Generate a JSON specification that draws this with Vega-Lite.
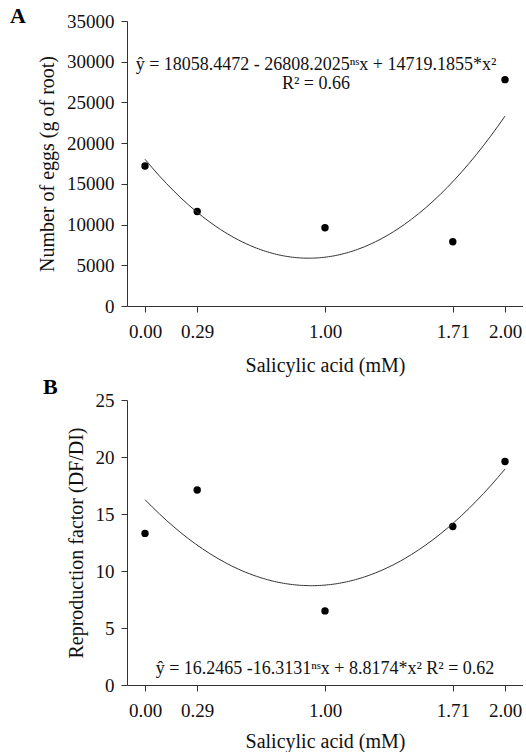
{
  "$schema": "https://vega.github.io/schema/vega-lite/v6.json",
  "background": "white",
  "autosize": {"type": "pad"},
  "padding": {"left": 10, "top": 5, "right": 0, "bottom": 0},
  "spacing": 0,
  "align": "none",
  "center": true,
  "config": {
    "view": {"stroke": null},
    "font": "Liberation Serif",
    "axis": {
      "grid": false,
      "domainColor": "#333333",
      "tickColor": "#333333",
      "labelColor": "#111111",
      "titleColor": "#111111",
      "labelFont": "Liberation Serif",
      "titleFont": "Liberation Serif",
      "labelFontSize": 19,
      "titleFontSize": 20,
      "titleFontWeight": "normal",
      "tickSize": 6,
      "labelPadding": 7,
      "titlePadding": 9
    },
    "axisX": {"labelPadding": 10.5, "titlePadding": 14, "labelFlush": false},
    "axisY": {"labelFlush": false}
  },
  "datasets": {
    "eggs": [
      {"acid": 0.0, "eggs": 17200},
      {"acid": 0.29, "eggs": 11600},
      {"acid": 1.0, "eggs": 9600},
      {"acid": 1.71, "eggs": 7900},
      {"acid": 2.0, "eggs": 27800}
    ],
    "rf": [
      {"acid": 0.0, "rf": 13.3},
      {"acid": 0.29, "rf": 17.1},
      {"acid": 1.0, "rf": 6.5},
      {"acid": 1.71, "rf": 13.9},
      {"acid": 2.0, "rf": 19.6}
    ]
  },
  "vconcat": [
    {
      "width": 396,
      "height": 285,
      "title": {"text": "A", "anchor": "start", "frame": "group", "fontSize": 22, "fontWeight": "bold", "font": "Liberation Serif", "color": "#000000", "dx": -117, "offset": -16},
      "layer": [
        {
          "data": {"name": "eggs"},
          "mark": {"type": "point", "filled": true, "size": 55, "color": "#000000", "opacity": 1},
          "encoding": {
            "x": {"field": "acid", "type": "quantitative", "scale": {"domain": [-0.1, 2.1], "nice": false, "zero": false}, "axis": {"values": [0, 0.29, 1, 1.71, 2], "format": ".2f", "title": "Salicylic acid (mM)"}},
            "y": {"field": "eggs", "type": "quantitative", "scale": {"domain": [0, 35000], "nice": false}, "axis": {"values": [0, 5000, 10000, 15000, 20000, 25000, 30000, 35000], "format": "d", "title": "Number of eggs (g of root)"}}
          }
        },
        {
          "data": {"name": "eggs"},
          "transform": [{"regression": "eggs", "on": "acid", "method": "poly", "order": 2, "extent": [0, 2]}],
          "mark": {"type": "line", "color": "#333333", "strokeWidth": 1, "interpolate": "monotone"},
          "encoding": {
            "x": {"field": "acid", "type": "quantitative"},
            "y": {"field": "eggs", "type": "quantitative"}
          }
        },
        {
          "data": {"values": [{}]},
          "mark": {"type": "text", "fontSize": 18, "align": "center", "baseline": "middle", "lineHeight": 19, "color": "#111111", "font": "Liberation Serif"},
          "encoding": {
            "x": {"datum": 0.95},
            "y": {"datum": 29650},
            "text": {"value": ["ŷ = 18058.4472 - 26808.2025ⁿˢx + 14719.1855*x²", "R² = 0.66"]}
          }
        }
      ]
    },
    {
      "width": 396,
      "height": 285,
      "title": {"text": "B", "anchor": "start", "frame": "group", "fontSize": 22, "fontWeight": "bold", "font": "Liberation Serif", "color": "#000000", "dx": -84, "offset": -8},
      "layer": [
        {
          "data": {"name": "rf"},
          "mark": {"type": "point", "filled": true, "size": 55, "color": "#000000", "opacity": 1},
          "encoding": {
            "x": {"field": "acid", "type": "quantitative", "scale": {"domain": [-0.1, 2.1], "nice": false, "zero": false}, "axis": {"values": [0, 0.29, 1, 1.71, 2], "format": ".2f", "title": "Salicylic acid (mM)", "titlePadding": 11}},
            "y": {"field": "rf", "type": "quantitative", "scale": {"domain": [0, 25], "nice": false}, "axis": {"values": [0, 5, 10, 15, 20, 25], "format": "d", "title": "Reproduction factor (DF/DI)"}}
          }
        },
        {
          "data": {"name": "rf"},
          "transform": [{"regression": "rf", "on": "acid", "method": "poly", "order": 2, "extent": [0, 2]}],
          "mark": {"type": "line", "color": "#333333", "strokeWidth": 1, "interpolate": "monotone"},
          "encoding": {
            "x": {"field": "acid", "type": "quantitative"},
            "y": {"field": "rf", "type": "quantitative"}
          }
        },
        {
          "data": {"values": [{}]},
          "mark": {"type": "text", "fontSize": 18, "align": "center", "baseline": "middle", "color": "#111111", "font": "Liberation Serif"},
          "encoding": {
            "x": {"datum": 1.0},
            "y": {"datum": 1.4},
            "text": {"value": "ŷ = 16.2465 -16.3131ⁿˢx + 8.8174*x² R² = 0.62"}
          }
        }
      ]
    }
  ]
}
